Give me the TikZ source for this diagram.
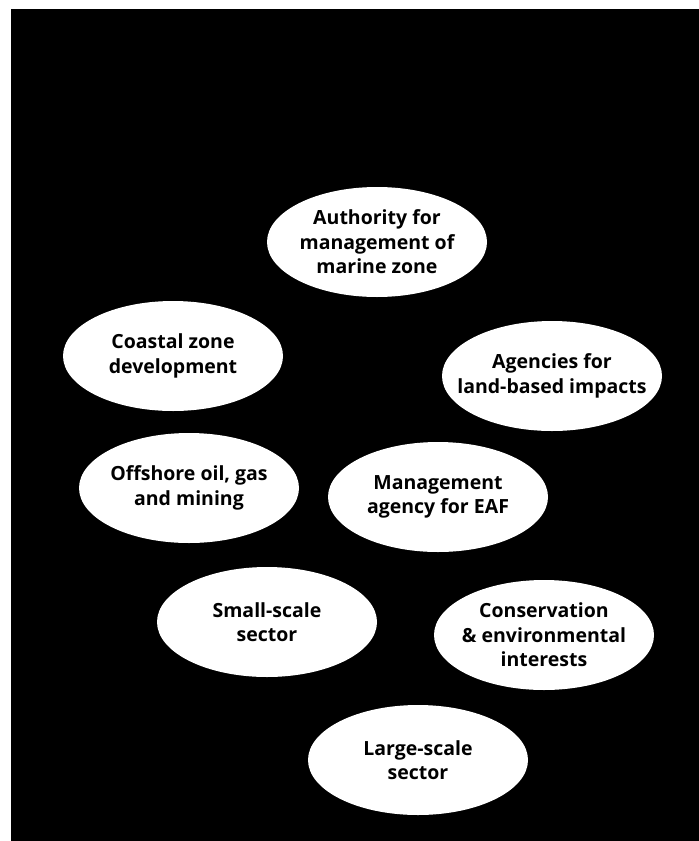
\documentclass[tikz,border=0pt]{standalone}
\usepackage{fontspec}
\setmainfont{Open Sans}
\usetikzlibrary{positioning}
\usetikzlibrary{shapes.geometric}

\begin{document}
\begin{tikzpicture}[x=1pt,y=-1pt,
	zone/.style={ellipse,fill=white,minimum width=220pt,minimum height=110pt,
		inner xsep=-70pt,inner ysep=0pt,align=center,
		font=\fontsize{19.5}{24.5}\selectfont\bfseries}]
	\useasboundingbox (0,0) rectangle (699,841);
	\fill[white] (0,0) rectangle (699,841);
	\fill[black] (11,9) rectangle (699,841);
	\path (377,242) coordinate(c1)
	(173,356) coordinate(c2)
	(552,376) coordinate(c3)
	(189,488) coordinate(c4)
	(438,497) coordinate(c5)
	(267,622) coordinate(c6)
	(544,635) coordinate(c7)
	(418,760) coordinate(c8);
	\node[zone] (auth) at (c1) {Authority for\\management of\\marine zone};
	\node[zone] (coast) at (c2) {Coastal zone\\development};
	\node[zone] (land) at (c3) {Agencies for\\land-based impacts};
	\node[zone] (offshore) at (c4) {Offshore oil, gas\\and mining};
	\node[zone] (eaf) at (c5) {Management\\agency for EAF};
	\node[zone] (small) at (c6) {Small-scale\\sector};
	\node[zone] (conserv) at (c7) {Conservation\\\& environmental\\interests};
	\node[zone] (large) at (c8) {Large-scale\\sector};
	
\end{tikzpicture}
\end{document}
